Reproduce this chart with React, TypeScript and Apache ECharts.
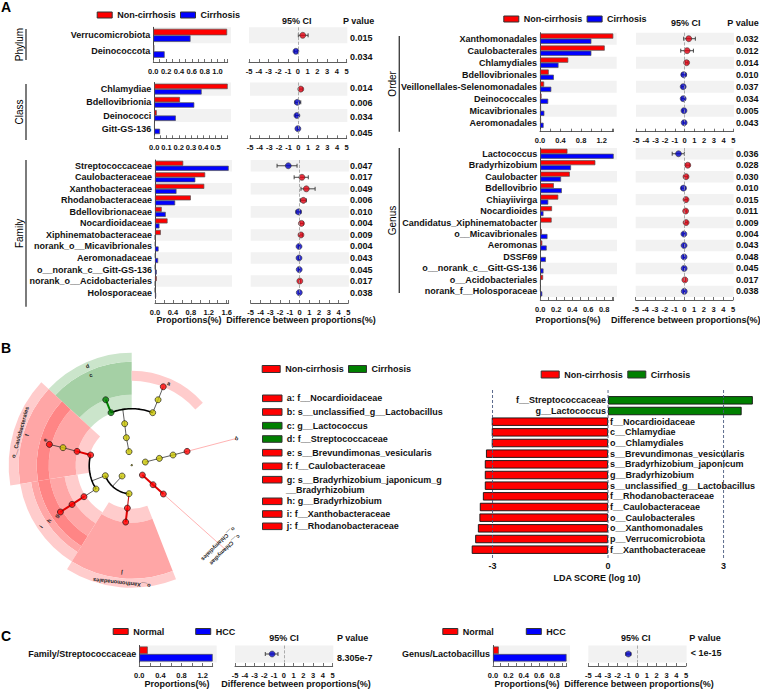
import React, { useEffect, useRef } from "react";
import * as echarts from "echarts";

// ---------- Panel A data ----------
const phylumCats = ["Verrucomicrobiota", "Deinococcota"];
const phylumNon = [1.15, 0.015];
const phylumCir = [0.58, 0.177];
const phylumMean = [0.5, -0.2];
const phylumLow = [0.05, -0.35];
const phylumHigh = [1.05, -0.05];
const phylumP = ["0.015", "0.034"];

const classCats = ["Chlamydiae", "Bdellovibrionia", "Deinococci", "Gitt-GS-136"];
const classNon = [0.6, 0.21, 0.02, 0.003];
const classCir = [0.387, 0.327, 0.176, 0.047];
const classMean = [0.25, -0.1, -0.15, -0.05];
const classLow = [0.05, -0.35, -0.3, -0.1];
const classHigh = [0.45, 0.25, 0, 0];
const classP = ["0.014", "0.006", "0.034", "0.045"];

const familyCats = ["Streptococcaceae", "Caulobacteraceae", "Xanthobacteraceae", "Rhodanobacteraceae", "Bdellovibrionaceae", "Nocardioidaceae", "Xiphinematobacteraceae", "norank_o__Micavibrionales", "Aeromonadaceae", "o__norank_c__Gitt-GS-136", "norank_o__Acidobacteriales", "Holosporaceae"];
const familyNon = [0.63, 1.12, 1.1, 0.8, 0.15, 0.28, 0.13, 0.01, 0.01, 0.005, 0.04, 0.002];
const familyCir = [1.645, 0.9, 0.48, 0.45, 0.24, 0.1, 0.003, 0.08, 0.07, 0.04, 0.005, 0.025];
const familyMean = [-1.15, 0.25, 0.7, 0.4, -0.1, 0.2, 0.15, -0.05, -0.05, -0.03, 0.03, -0.02];
const familyLow = [-2.3, -0.55, 0.15, 0.1, -0.35, 0.05, 0, -0.12, -0.12, -0.08, -0.02, -0.06];
const familyHigh = [-0.25, 0.9, 1.6, 0.7, 0.15, 0.4, 0.3, 0, 0, 0, 0.08, 0];
const familyP = ["0.047", "0.017", "0.049", "0.006", "0.010", "0.004", "0.009", "0.004", "0.043", "0.045", "0.017", "0.038"];

const orderCats = ["Xanthomonadales", "Caulobacterales", "Chlamydiales", "Bdellovibrionales", "Veillonellales-Selenomonadales", "Deinococcales", "Micavibrionales", "Aeromonadales"];
const orderNon = [1.427, 1.26, 0.55, 0.17, 0.08, 0.03, 0.02, 0.02];
const orderCir = [1.0, 1.0, 0.36, 0.27, 0.22, 0.16, 0.085, 0.07];
const orderMean = [0.42, 0.25, 0.2, -0.1, -0.15, -0.15, -0.07, -0.05];
const orderLow = [-0.1, -0.4, 0.05, -0.3, -0.3, -0.3, -0.2, -0.15];
const orderHigh = [1.1, 0.9, 0.35, 0.15, 0, -0.02, 0.03, 0.03];
const orderP = ["0.032", "0.012", "0.014", "0.010", "0.037", "0.034", "0.005", "0.043"];

const genusCats = ["Lactococcus", "Bradyrhizobium", "Caulobacter", "Bdellovibrio", "Chiayiivirga", "Nocardioides", "Candidatus_Xiphinematobacter", "o__Micavibrionales", "Aeromonas", "DSSF69", "o__norank_c__Gitt-GS-136", "o__Acidobacteriales", "norank_f__Holosporaceae"];
const genusNon = [0.34, 0.69, 0.37, 0.17, 0.225, 0.147, 0.142, 0.02, 0.025, 0.005, 0.003, 0.035, 0.003];
const genusCir = [0.92, 0.385, 0.26, 0.27, 0.1, 0.04, 0.003, 0.09, 0.08, 0.07, 0.04, 0.003, 0.025];
const genusMean = [-0.6, 0.35, 0.17, -0.1, 0.17, 0.13, 0.18, -0.05, -0.03, -0.03, -0.02, 0.05, -0.01];
const genusLow = [-1.25, 0.15, 0, -0.3, 0.03, 0.02, 0.05, -0.15, -0.1, -0.1, -0.07, 0, -0.05];
const genusHigh = [0, 0.55, 0.35, 0.15, 0.3, 0.25, 0.3, 0, 0, 0, 0, 0.1, 0];
const genusP = ["0.036", "0.028", "0.030", "0.010", "0.015", "0.011", "0.009", "0.004", "0.043", "0.048", "0.045", "0.017", "0.038"];

// ---------- Panel B data ----------
const ldaCats = ["f__Streptococcaceae", "g__Lactococcus", "f__Nocardioidaceae", "c__Chlamydiae", "o__Chlamydiales", "s__Brevundimonas_vesicularis", "s__Bradyrhizobium_japonicum", "g__Bradyrhizobium", "s__unclassified_g__Lactobacillus", "f__Rhodanobacteraceae", "f__Caulobacteraceae", "o__Caulobacterales", "o__Xanthomonadales", "p__Verrucomicrobiota", "f__Xanthobacteraceae"];
const ldaNon: (number | string)[] = ["-", "-", -3.02, -3.02, -3.02, -3.17, -3.2, -3.2, -3.2, -3.25, -3.33, -3.34, -3.38, -3.45, -3.54];
const ldaCir: (number | string)[] = [3.76, 3.47, "-", "-", "-", "-", "-", "-", "-", "-", "-", "-", "-", "-", "-"];
const ldaTicks = [-3, 0, 3];

const cladoKeys = ["a: f__Nocardioidaceae", "b: s__unclassified_g__Lactobacillus", "c: g__Lactococcus", "d: f__Streptococcaceae", "e: s__Brevundimonas_vesicularis", "f: f__Caulobacteraceae", "g: s__Bradyrhizobium_japonicum_g", "h: g__Bradyrhizobium", "i: f__Xanthobacteraceae", "j: f__Rhodanobacteraceae"];
const cladoKeyGroup = [0, 0, 1, 1, 0, 0, 0, 0, 0, 0];
const cladoKeyY = [398.3, 412, 425.7, 439, 452.7, 466.3, 479.7, 501.3, 514, 526.3];

// cladogram: polar values [radius, angle clockwise from north]
const yellowNodes = [[14.3, 349.2], [28.5, 349.2], [42.6, 350.5], [57, 21.6], [71, 21.8], [14.1, 75], [28.6, 75.2], [42.7, 75.5], [28.1, 185.4], [14.1, 223], [28.2, 249.2], [42.6, 236.8], [71, 284.7]];
const redNodes = [[85, 21.8], [57.2, 75.5], [14.2, 131.2], [28.6, 131.7], [42.5, 131.8], [42.6, 185.8], [56.7, 186.1], [56.9, 237], [71.1, 237], [85, 237], [42.4, 284.6], [56.5, 284.7], [85, 284.5]];
const greenNodes = [[56.9, 338.7], [70.9, 338.5]];
// [r0, r1, startAngle, endAngle, shade]
const sectors = [
  [56, 71, 312.7, 360, 3], [71, 104, 312.7, 360, 4], [104, 113, 312.7, 360, 3],
  [85, 95, 0, 48.5, 0],
  [43, 56, 260.7, 312.7, 0], [56, 83, 260.7, 312.7, 1], [83, 95, 260.7, 312.7, 2], [95, 113, 260.7, 312.7, 1], [113, 123, 260.7, 312.7, 0],
  [55, 68, 212, 260.7, 0], [68, 83, 212, 260.7, 1], [83, 95, 212, 260.7, 2], [95, 102, 212, 260.7, 1], [102, 113, 212, 260.7, 0],
  [43, 57, 158.7, 212, 0], [57, 113, 158.7, 212, 1], [113, 122, 158.7, 212, 0],
];
// [r1, a1, r2, a2, style]
const edges = [
  [14.3, 349.2, 28.5, 349.2, 0], [28.5, 349.2, 42.6, 350.5, 0], [42.6, 350.5, 57, 351, 0],
  [57, 21.6, 71, 21.8, 0], [71, 21.8, 85, 21.8, 0],
  [14.1, 75, 28.6, 75.2, 0], [28.6, 75.2, 42.7, 75.5, 0], [42.7, 75.5, 57.2, 75.5, 0],
  [28.1, 185.4, 42.6, 185.8, 1], [14.1, 223, 28.2, 223, 0], [28.2, 249.2, 42.5, 249.2, 0],
  [42.6, 236.8, 56.9, 237, 0], [56.5, 284.7, 71, 284.7, 0], [71, 284.7, 85, 284.5, 0],
  [14.2, 131.2, 28.6, 131.7, 2], [28.6, 131.7, 42.5, 131.8, 2], [42.6, 185.8, 56.7, 186.1, 2],
  [56.9, 237, 71.1, 237, 2], [71.1, 237, 85, 237, 2], [42.4, 284.6, 56.5, 284.7, 2],
  [56.9, 338.7, 70.9, 338.5, 3],
  [57.2, 75.5, 108, 75.4, 4], [42.5, 131.8, 125, 131.8, 4],
];
// [r, a1, a2]
const arcs = [[57, 338.7, 381.6], [28.2, 185.4, 249.2], [42.5, 236.8, 284.6]];
const cladoCentre = [[0.5, 0]];

// ---------- Panel C data ----------
const cLeftCats = ["Family/Streptococcaceae"];
const cLeftNormal = [0.16];
const cLeftHcc = [1.39];
const cLeftMean = [-1.2];
const cLeftLow = [-1.9];
const cLeftHigh = [-0.6];
const cLeftP = ["8.305e-7"];
const cRightCats = ["Genus/Lactobacillus"];
const cRightNormal = [0.075];
const cRightHcc = [0.955];
const cRightMean = [-0.9];
const cRightLow = [-1.15];
const cRightHigh = [-0.65];
const cRightP = ["< 1e-15"];

// ---------- styles & layout ----------
const RED = "#ff0000";
const BLUE = "#0000ff";
const GREEN = "#008000";
const INK = "#111111";
const FF = '"Liberation Sans", Arial, sans-serif';
const bold = (s: number) => `bold ${s}px ${FF}`;
const SHADES = ["#ffcccc", "#ffa6a6", "#ff8585", "#cbe5cb", "#a5d0a5"];

export default function App() {
  const ref = useRef<HTMLDivElement>(null);
  useEffect(() => {
    const chart = echarts.init(ref.current!, undefined, { renderer: "svg" });
    const grid: any[] = [];
    const xAxis: any[] = [];
    const yAxis: any[] = [];
    const series: any[] = [];
    const g: any[] = [];

    const text = (t: string, x: number, y: number, opt: any = {}) => {
      g.push({
        type: "text",
        x,
        y,
        rotation: opt.rotation || 0,
        z: 10,
        style: {
          text: t,
          font: opt.font || bold(9),
          fill: opt.fill || INK,
          align: opt.align || "left",
          verticalAlign: "middle",
          textAlign: opt.align || "left",
          textVerticalAlign: "middle",
        },
      });
    };
    const rect = (x: number, y: number, w: number, h: number, fill: string, stroke?: string) => {
      g.push({ type: "rect", z: 0, shape: { x, y, width: w, height: h }, style: { fill, stroke: stroke || "none", lineWidth: stroke ? 1 : 0 } });
    };

    const tickAxis = (gi: number, axisOffset: number, min: number, max: number, interval: number, fmt: any, minor: boolean) => ({
      type: "value",
      gridIndex: gi,
      min,
      max,
      interval,
      position: "bottom",
      offset: axisOffset,
      splitLine: { show: false },
      axisLine: { show: true, onZero: false, lineStyle: { color: "#333", width: 0.8 } },
      axisTick: { show: true, inside: true, length: 3, lineStyle: { color: "#333", width: 0.7 } },
      minorTick: { show: minor, splitNumber: 2, length: 3, lineStyle: { color: "#333", width: 0.7 } },
      axisLabel: { show: true, margin: 5, fontSize: 7.5, fontWeight: "bold", color: INK, fontFamily: FF, showMaxLabel: min === -5, showMinLabel: true, formatter: fmt },
    });

    const panel = (p: any) => {
      const n = p.cats.length;
      const h = n * p.rowH;
      const off = p.axisY - (p.top + h);
      for (let i = 0; i < n; i += 2) {
        rect(p.x0, p.top + i * p.rowH, p.bandEnd - p.x0, p.rowH, "#f2f2f2");
        rect(p.ci0, p.top + i * p.rowH, p.ci1 + 0.6 - p.ci0, p.rowH, "#f2f2f2");
      }
      const gi = grid.length;
      grid.push({ left: p.x0, top: p.top, width: p.axisEnd - p.x0, height: h, containLabel: false });
      xAxis.push(tickAxis(gi, off, 0, p.axisMax, p.interval, (v: number) => v.toFixed(1), true));
      yAxis.push({
        type: "category", gridIndex: gi, inverse: true, data: p.cats,
        axisLine: { show: true, lineStyle: { color: "#444", width: 1 } },
        axisTick: { show: false },
        axisLabel: { interval: 0, margin: 3, fontSize: 9, fontWeight: "bold", color: INK, fontFamily: FF },
        splitLine: { show: false },
      });
      const barStyle = (c: string) => ({ color: c, borderColor: "#555", borderWidth: 0.7 });
      series.push({ name: p.names[0], type: "bar", xAxisIndex: gi, yAxisIndex: gi, data: p.a, barWidth: p.barH, barGap: 0, itemStyle: barStyle(RED) });
      series.push({ name: p.names[1], type: "bar", xAxisIndex: gi, yAxisIndex: gi, data: p.b, barWidth: p.barH, barGap: 0, itemStyle: barStyle(BLUE) });

      const ci = grid.length;
      grid.push({ left: p.ci0, top: p.top, width: p.ci1 - p.ci0, height: h, containLabel: false });
      xAxis.push(tickAxis(ci, off, -5, 5, 1, (v: number) => String(v), false));
      yAxis.push({ type: "category", gridIndex: ci, inverse: true, data: p.cats, show: false });
      series.push({
        name: "95% CI", type: "custom", xAxisIndex: ci, yAxisIndex: ci, clip: false, z: 3,
        encode: { x: [0, 1], y: 2 },
        data: p.low.map((l: number, i: number) => [l, p.high[i], i]),
        renderItem: (_: any, api: any) => {
          const a = api.coord([api.value(0), api.value(2)]);
          const b = api.coord([api.value(1), api.value(2)]);
          const st = { stroke: "#333", lineWidth: 0.9, fill: "none" };
          const seg = (x1: number, y1: number, x2: number, y2: number) => ({ type: "line", shape: { x1, y1, x2, y2 }, style: st });
          return { type: "group", children: [seg(a[0], a[1], b[0], b[1]), seg(a[0], a[1] - 2, a[0], a[1] + 2), seg(b[0], b[1] - 2, b[0], b[1] + 2)] };
        },
      });
      series.push({
        name: "Difference", type: "scatter", xAxisIndex: ci, yAxisIndex: ci, z: 4, clip: false, symbolSize: 6,
        data: p.mean.map((m: number, i: number) => ({ value: [m, i], itemStyle: { color: m > 0 ? "#e00010" : "#0000c8", borderColor: "#333", borderWidth: 0.7 } })),
        markLine: { silent: true, symbol: ["none", "none"], label: { show: false }, lineStyle: { type: "dashed", color: "#999", width: 0.8 }, data: [{ xAxis: 0 }] },
      });
      p.p.forEach((t: string, i: number) => {
        const y = p.pY ? p.pY[i] : p.top + (i + 0.5) * p.rowH;
        text(t, p.pX, y);
      });
    };

    const AN = ["Non-cirrhosis", "Cirrhosis"];
    const CN = ["Normal", "HCC"];
    panel({ cats: phylumCats, a: phylumNon, b: phylumCir, mean: phylumMean, low: phylumLow, high: phylumHigh, p: phylumP, names: AN, x0: 153.3, axisEnd: 227.7, bandEnd: 231, top: 27.3, rowH: 16, axisY: 62, axisMax: 1.159, interval: 0.2, barH: 6.5, ci0: 249, ci1: 346.7, pX: 350, pY: [38.3, 57.3] });
    panel({ cats: classCats, a: classNon, b: classCir, mean: classMean, low: classLow, high: classHigh, p: classP, names: AN, x0: 154.3, axisEnd: 227.7, bandEnd: 231, top: 82.5, rowH: 13.2, axisY: 138.3, axisMax: 0.6, interval: 0.1, barH: 5.4, ci0: 250, ci1: 346.7, pX: 350, pY: [87.7, 103.3, 117.3, 132.7] });
    panel({ cats: familyCats, a: familyNon, b: familyCir, mean: familyMean, low: familyLow, high: familyHigh, p: familyP, names: AN, x0: 155, axisEnd: 228.7, bandEnd: 232, top: 160, rowH: 11.53, axisY: 303, axisMax: 1.645, interval: 0.4, barH: 5, ci0: 250.7, ci1: 348.3, pX: 350 });
    panel({ cats: orderCats, a: orderNon, b: orderCir, mean: orderMean, low: orderLow, high: orderHigh, p: orderP, names: AN, x0: 540, axisEnd: 613.3, bandEnd: 616.7, top: 32.7, rowH: 12, axisY: 131.7, axisMax: 1.427, interval: 0.4, barH: 5.2, ci0: 636, ci1: 733.3, pX: 736 });
    panel({ cats: genusCats, a: genusNon, b: genusCir, mean: genusMean, low: genusLow, high: genusHigh, p: genusP, names: AN, x0: 540.3, axisEnd: 613.7, bandEnd: 617, top: 148, rowH: 11.47, axisY: 300, axisMax: 0.92, interval: 0.2, barH: 5, ci0: 635.7, ci1: 733, pX: 736 });
    panel({ cats: cLeftCats, a: cLeftNormal, b: cLeftHcc, mean: cLeftMean, low: cLeftLow, high: cLeftHigh, p: cLeftP, names: CN, x0: 139.3, axisEnd: 212.7, bandEnd: 216.7, top: 645.5, rowH: 17, axisY: 666, axisMax: 1.39, interval: 0.4, barH: 7.5, ci0: 235, ci1: 332.7, pX: 337, pY: [657.7] });
    panel({ cats: cRightCats, a: cRightNormal, b: cRightHcc, mean: cRightMean, low: cRightLow, high: cRightHigh, p: cRightP, names: CN, x0: 493, axisEnd: 566.7, bandEnd: 570, top: 645.5, rowH: 17, axisY: 666, axisMax: 0.957, interval: 0.2, barH: 7.5, ci0: 588.3, ci1: 686, pX: 690.7, pY: [652.7] });

    const side = (label: string, x: number, y1: number, y2: number) => {
      g.push({ type: "line", z: 1, shape: { x1: x, y1, x2: x, y2 }, style: { stroke: "#444", lineWidth: 1.4 } });
      text(label, x - 7, (y1 + y2) / 2, { rotation: Math.PI / 2, align: "center", font: `10px ${FF}`, fill: "#000" });
    };
    side("Phylum", 26, 29, 60);
    side("Class", 26, 84, 140);
    side("Family", 26, 160, 306.7);
    side("Order", 399.3, 36, 131.7);
    side("Genus", 399.3, 148, 293);

    const heads = (ciX: number, pX: number, y: number) => {
      text("95% CI", ciX, y, { align: "center" });
      text("P value", pX, y);
    };
    heads(296.7, 343, 20.7);
    heads(685.7, 727.3, 23.3);
    heads(284, 337, 638);
    heads(635.7, 689.3, 638);

    const PROP = "Proportions(%)";
    const DIFF = "Difference between proportions(%)";
    [[189, 301, 320], [568, 685.7, 320], [177, 296, 684.3], [527, 639, 684.3]].forEach(([a, b, y]) => {
      text(PROP, a, y, { align: "center" });
      text(DIFF, b, y, { align: "center" });
    });

    text("A", 1, 7, { font: bold(14), fill: "#000" });
    text("B", 1, 348, { font: bold(14), fill: "#000" });
    text("C", 1, 636, { font: bold(14), fill: "#000" });

    // LDA chart
    const ldaGrid = grid.length;
    grid.push({ left: 467.5, top: 395, width: 290.7, height: 160, containLabel: false });
    xAxis.push({
      type: "value", gridIndex: ldaGrid, min: -3.65, max: 3.9, position: "bottom",
      axisLine: { show: false }, axisTick: { show: false }, splitLine: { show: false },
      axisLabel: { customValues: ldaTicks, margin: 6, fontSize: 9, fontWeight: "bold", color: INK, fontFamily: FF },
    });
    yAxis.push({ type: "category", gridIndex: ldaGrid, inverse: true, data: ldaCats, show: false });
    const ldaLabel = (position: string) => ({ show: true, position, distance: 2, fontSize: 9, fontWeight: "bold", color: INK, fontFamily: FF, formatter: (q: any) => q.name });
    series.push({ name: "Non-cirrhosis", type: "bar", xAxisIndex: ldaGrid, yAxisIndex: ldaGrid, stack: "lda", data: ldaNon, barWidth: 8.4, itemStyle: { color: RED, borderColor: "#111", borderWidth: 0.9 }, label: ldaLabel("right"), clip: false });
    series.push({ name: "Cirrhosis", type: "bar", xAxisIndex: ldaGrid, yAxisIndex: ldaGrid, stack: "lda", data: ldaCir, barWidth: 8.4, itemStyle: { color: GREEN, borderColor: "#111", borderWidth: 0.9 }, label: ldaLabel("left"), clip: false });
    series.push({
      name: "LDA guides", type: "custom", xAxisIndex: ldaGrid, yAxisIndex: ldaGrid, clip: false, z: 5,
      encode: { x: 0 }, data: ldaTicks.map((v) => [v]),
      renderItem: (params: any, api: any) => {
        const x = api.coord([api.value(0), 0])[0];
        const c = params.coordSys;
        return { type: "line", shape: { x1: x, y1: c.y - 5, x2: x, y2: c.y + c.height + 5 }, style: { stroke: "#4a5a80", lineWidth: 0.9, lineDash: [3, 2] } };
      },
    });
    text("LDA SCORE (log 10)", 597, 578, { align: "center" });

    // key list
    cladoKeys.forEach((k, i) => {
      rect(262.5, cladoKeyY[i] - 3.3, 19.5, 6.6, cladoKeyGroup[i] ? GREEN : RED, "#333");
      text(k, 286.7, cladoKeyY[i]);
    });
    text("__Bradyrhizobium", 286, 490);

    // cladogram
    const polarBase = { coordinateSystem: "polar", polarIndex: 0 };
    series.push({
      ...polarBase, name: "Clades", type: "custom", z: 1, silent: true, encode: { radius: 0, angle: 2 }, data: sectors,
      renderItem: (_: any, api: any) => {
        const c = api.coord([0, 0]);
        const rad = (a: number) => ((a - 90) * Math.PI) / 180;
        return { type: "sector", shape: { cx: c[0], cy: c[1], r0: api.value(0), r: api.value(1), startAngle: rad(api.value(2)), endAngle: rad(api.value(3)), clockwise: true }, style: { fill: SHADES[api.value(4)] } };
      },
    });
    const EDGE = [
      { stroke: "#333", lineWidth: 0.8 }, { stroke: "#c01010", lineWidth: 1.1 }, { stroke: "#e00000", lineWidth: 2 }, { stroke: GREEN, lineWidth: 2 }, { stroke: "#ff9f9f", lineWidth: 0.8 },
    ];
    series.push({
      ...polarBase, name: "Branches", type: "custom", z: 2, silent: true, encode: { radius: 0, angle: 1 }, data: edges,
      renderItem: (_: any, api: any) => {
        const a = api.coord([api.value(0), api.value(1)]);
        const b = api.coord([api.value(2), api.value(3)]);
        return { type: "line", shape: { x1: a[0], y1: a[1], x2: b[0], y2: b[1] }, style: EDGE[api.value(4)] };
      },
    });
    series.push({
      ...polarBase, name: "Arcs", type: "custom", z: 2, silent: true, encode: { radius: 0, angle: 1 }, data: arcs,
      renderItem: (_: any, api: any) => {
        const r = api.value(0), a1 = api.value(1), a2 = api.value(2);
        const pts: number[][] = [];
        for (let i = 0; i <= 24; i++) pts.push(api.coord([r, (a1 + ((a2 - a1) * i) / 24) % 360]));
        return { type: "polyline", shape: { points: pts }, style: { stroke: "#000", lineWidth: 1.6, fill: "none" } };
      },
    });
    const nodeSeries = (name: string, data: number[][], color: string, size = 6) =>
      series.push({ ...polarBase, name, type: "scatter", z: 3, symbolSize: size, data, itemStyle: { color, borderColor: "#111", borderWidth: 0.8 } });
    nodeSeries("Neutral nodes", yellowNodes, "#c9c400");
    nodeSeries("Non-cirrhosis nodes", redNodes, RED);
    nodeSeries("Cirrhosis nodes", greenNodes, GREEN);
    nodeSeries("Root", cladoCentre, "#c9c400", 1.5);

    const small = `bold 5.6px ${FF}`;
    const cl = (t: string, x: number, y: number, deg = 0) => text(t, x, y, { font: small, align: "center", rotation: (deg * Math.PI) / 180, fill: "#222" });
    cl("o__Caulobacterales", 20, 432.3, 74.6);
    cl("f", 26.7, 435, 75);
    cl("d", 87.3, 366, 20);
    cl("c", 90.7, 375, 20);
    cl("a", 169, 383.3, -20);
    cl("e", 45, 440, 75);
    cl("i", 41, 526.7, 55);
    cl("h", 49, 520.7, 55);
    cl("g", 56.7, 515.7, 55);
    cl("b", 236.7, 438.3, -15);
    cl("j", 121.7, 573, 174);
    cl("o__Xanthomonadales", 121.7, 583, 174);
    cl("o__Chlamydiales", 218.3, 544, 225);
    cl("c__Chlamydiae", 225, 550, 225);

    const legendItem = (left: number, top: number, itemWidth: number, itemHeight: number, gap: number, a: string, ca: string, b: string, cb: string) => ({
      left, top, padding: 0, orient: "horizontal", itemWidth, itemHeight, itemGap: gap, selectedMode: false, icon: "rect",
      textStyle: { fontSize: 9, fontWeight: "bold", color: INK, fontFamily: FF },
      data: [
        { name: a, icon: "rect", itemStyle: { color: ca, borderColor: "#333", borderWidth: 1 } },
        { name: b, icon: "rect", itemStyle: { color: cb, borderColor: "#333", borderWidth: 1 } },
      ],
    });

    chart.setOption({
      animation: false,
      backgroundColor: "#fff",
      textStyle: { fontFamily: FF },
      polar: { center: [131.7, 465.7], radius: 123 },
      angleAxis: { type: "value", min: 0, max: 360, startAngle: 90, clockwise: true, show: false },
      radiusAxis: { type: "value", min: 0, max: 123, show: false },
      grid,
      xAxis,
      yAxis,
      series,
      legend: [
        legendItem(96.7, 10.5, 15, 6, 4.3, "Non-cirrhosis", RED, "Cirrhosis", BLUE),
        legendItem(503.3, 14.5, 15, 6, 4.3, "Non-cirrhosis", RED, "Cirrhosis", BLUE),
        legendItem(261.7, 364.5, 18, 7, 4.3, "Non-cirrhosis", RED, "Cirrhosis", GREEN),
        legendItem(540.7, 370, 18, 7, 4.6, "Non-cirrhosis", RED, "Cirrhosis", GREEN),
        legendItem(112.7, 627, 15, 6, 31, "Normal", RED, "HCC", BLUE),
        legendItem(442.3, 627, 15, 6, 32, "Normal", RED, "HCC", BLUE),
      ],
      graphic: { elements: g },
    });
    return () => chart.dispose();
  }, []);
  return <div ref={ref} style={{ position: "absolute", left: 0, top: 0, width: 760, height: 690 }} />;
}
